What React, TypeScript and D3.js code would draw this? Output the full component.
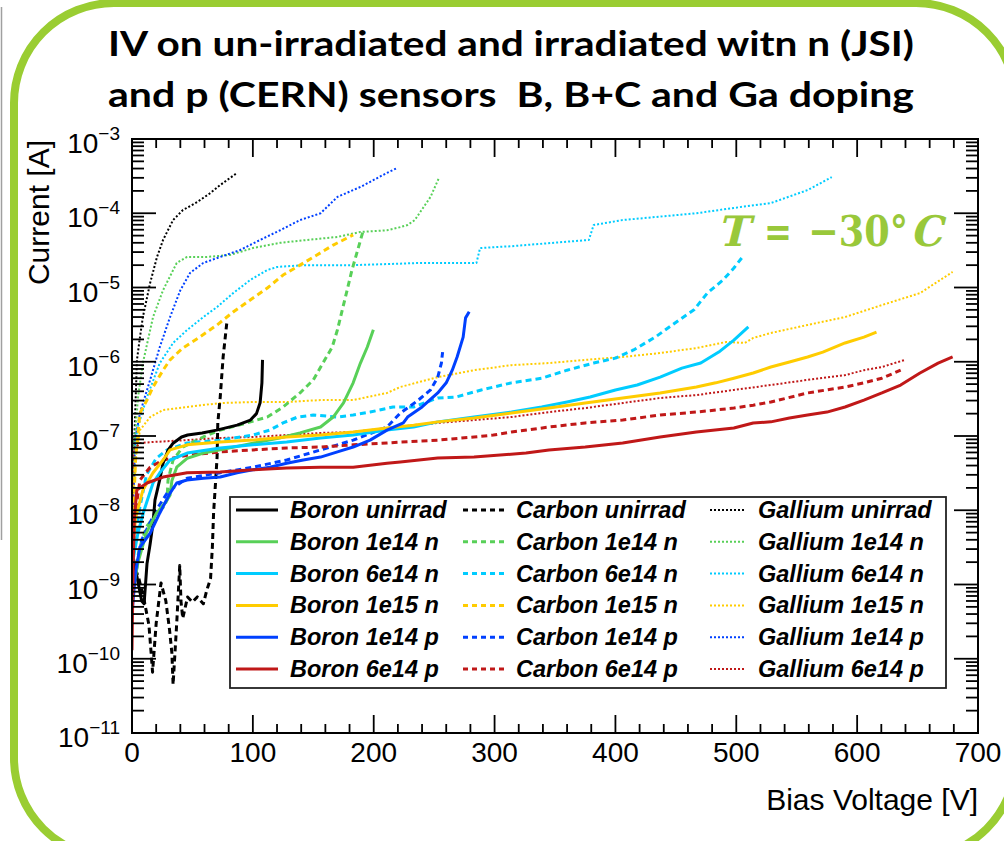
import React from "react";
import * as d3 from "d3";

type Pt = [number, number]; // [bias voltage in V, current in A]

// ---- IV curves: Boron (solid) ----
const boronUnirrad: Pt[] = [[0.5,2.5e-9],[4,1.3e-9],[8,6e-10],[10,5.5e-10],[12.4,1.9e-9],[15,3.5e-9],[17.4,6.7e-9],[19,1.37e-8],[23,2.6e-8],[25.7,4.3e-8],[30,6.5e-8],[34,8e-8],[41,9.7e-8],[46,1.03e-7],[58,1.1e-7],[70,1.2e-7],[87,1.4e-7],[98,1.64e-7],[103,2.0e-7],[106,2.8e-7],[107.5,5.2e-7],[108,1.06e-6]];
const boron1e14n: Pt[] = [[0.5,8e-10],[5,2e-9],[12,5e-9],[20,9e-9],[28,1.3e-8],[31.5,1.6e-8],[33,2.5e-8],[37,3.8e-8],[45.6,5e-8],[59,5.9e-8],[73,6.5e-8],[100,8e-8],[122,9.4e-8],[139,1.1e-7],[156,1.32e-7],[166.5,1.8e-7],[175,2.8e-7],[183,5.2e-7],[189,9.6e-7],[194.7,1.58e-6],[199.7,2.7e-6]];
const boron6e14n: Pt[] = [[0.5,2e-9],[5,5e-9],[10,1e-8],[17.4,2.33e-8],[23,3.2e-8],[31.5,4.75e-8],[45.6,5.9e-8],[73,6.9e-8],[100,7.6e-8],[128,8.3e-8],[156,9.4e-8],[183,1.03e-7],[211,1.2e-7],[233,1.32e-7],[253,1.55e-7],[283,1.8e-7],[314,2.1e-7],[339,2.46e-7],[360,2.87e-7],[379,3.35e-7],[400,4.17e-7],[418,4.86e-7],[437,6.2e-7],[455,8.2e-7],[470.6,9.6e-7],[485.5,1.35e-6],[498,1.96e-6],[510,2.94e-6]];
const boron1e15n: Pt[] = [[0.5,3e-9],[3,8e-9],[9,1.87e-8],[17.4,3.2e-8],[25.7,4.75e-8],[31.5,6.5e-8],[45.6,7.6e-8],[73,8.3e-8],[100,8.8e-8],[128,9.7e-8],[156,1.03e-7],[183,1.13e-7],[211,1.28e-7],[233,1.4e-7],[253,1.55e-7],[283,1.75e-7],[314,2.04e-7],[345,2.38e-7],[375,2.78e-7],[406,3.25e-7],[437,3.8e-7],[467,4.57e-7],[483,5.2e-7],[498,6e-7],[514,7.05e-7],[528.6,8.5e-7],[544,9.9e-7],[559,1.16e-6],[571.6,1.35e-6],[590,1.79e-6],[605.6,2.15e-6],[616,2.5e-6]];
const boron1e14p: Pt[] = [[0.5,5e-10],[3,1.5e-9],[6.6,3.2e-9],[15,4.9e-9],[23,9.2e-9],[31.5,1.7e-8],[37,2.33e-8],[45.6,2.55e-8],[59,2.7e-8],[73,2.8e-8],[87,3.2e-8],[100,3.5e-8],[114,3.8e-8],[128,4.3e-8],[141.7,4.75e-8],[156,5.2e-8],[170,6.1e-8],[183,7.1e-8],[197,8.8e-8],[211,1.2e-7],[224.5,1.5e-7],[228,1.8e-7],[240,2.46e-7],[253,3.8e-7],[260,5.2e-7],[265,7.7e-7],[269,1.16e-6],[274,2.15e-6],[276,3.9e-6],[279,4.7e-6]];
const boron6e14p: Pt[] = [[0,1.3e-10],[1,2e-9],[2,8e-9],[4,1.87e-8],[12.4,2.33e-8],[25.7,2.8e-8],[45.6,3.2e-8],[73,3.27e-8],[100,3.5e-8],[128,3.7e-8],[156,3.8e-8],[183,3.8e-8],[211,4.3e-8],[222,4.47e-8],[253,5.05e-8],[283,5.2e-8],[326,5.9e-8],[345,6.5e-8],[375,7.1e-8],[406,8.05e-8],[437,9.7e-8],[467,1.13e-7],[498,1.28e-7],[514,1.5e-7],[528.6,1.55e-7],[544,1.75e-7],[559,1.92e-7],[575,2.1e-7],[590,2.46e-7],[605.6,3.05e-7],[620.5,3.8e-7],[636,4.86e-7],[652,7.05e-7],[667,9.6e-7],[679,1.16e-6]];

// ---- IV curves: Carbon (dashed) ----
const carbonUnirrad: Pt[] = [[3,1.6e-9],[6,1.15e-9],[10,6.2e-10],[14,2.85e-10],[16,1.1e-10],[17,6.6e-11],[20,3e-10],[24,1.05e-9],[28,6e-10],[31,2.5e-10],[33,1.2e-10],[34,4.5e-11],[37,3e-10],[39.5,1.8e-9],[40.5,6e-10],[42,3.5e-10],[46,6.8e-10],[50,5.8e-10],[54,6.8e-10],[59,5.5e-10],[62,8.5e-10],[65,1.2e-9],[66.5,3.2e-9],[67.5,9.2e-9],[69,2.2e-8],[70.4,5.2e-8],[71,1.5e-7],[73,3.35e-7],[75.4,1.16e-6],[78.7,3.65e-6]];
const carbon1e14n: Pt[] = [[0.5,1e-9],[6,3e-9],[12,6e-9],[20,9e-9],[26,1.1e-8],[29,1.37e-8],[29.8,2.55e-8],[34,4.75e-8],[42,7.1e-8],[59,9.7e-8],[73,1.2e-7],[95,1.5e-7],[112,1.8e-7],[125,2.46e-7],[139,3.8e-7],[150,5.7e-7],[158,9.6e-7],[165.7,1.58e-6],[170,2.7e-6],[174,5e-6],[178,9.2e-6],[182,1.72e-5],[186,2.9e-5],[191,5.6e-5]];
const carbon6e14n: Pt[] = [[0.5,2e-9],[6,1e-8],[12,3e-8],[20,5e-8],[29,6.5e-8],[45.6,8.05e-8],[73,8.8e-8],[100,1.03e-7],[114,1.2e-7],[125,1.5e-7],[137,1.8e-7],[150,1.92e-7],[170,1.8e-7],[183,1.92e-7],[197,2.1e-7],[216,2.46e-7],[233,2.46e-7],[253,3.25e-7],[268,3.35e-7],[289,4.17e-7],[314,5.2e-7],[339,6e-7],[360,7.7e-7],[382,9.6e-7],[400,1.12e-6],[415,1.44e-6],[433,2.15e-6],[449,3.3e-6],[465,5e-6],[476,8.4e-6],[489,1.26e-5],[498,1.83e-5],[504.5,2.5e-5]];
const carbon1e15n: Pt[] = [[0.5,5e-9],[3,5e-8],[6.6,2.04e-7],[12.4,3.05e-7],[17.4,4.57e-7],[25.7,7.7e-7],[31.5,1.06e-6],[42,1.53e-6],[56,2.15e-6],[70.4,3.13e-6],[83.7,4.68e-6],[97.8,6.8e-6],[112,9.85e-6],[125,1.47e-5],[139,2e-5],[153,2.74e-5],[166.5,3.73e-5],[183,5.1e-5]];
const carbon1e14p: Pt[] = [[0.5,8e-10],[8,4e-9],[20,1e-8],[30,1.8e-8],[45.6,2.7e-8],[73,3.2e-8],[100,3.8e-8],[128,4.75e-8],[156,6.5e-8],[183,8.8e-8],[211,1.32e-7],[222,2.04e-7],[228,2.38e-7],[237,3.05e-7],[247,4.17e-7],[253,6.2e-7],[256,9.6e-7],[257,1.35e-6]];
const carbon6e14p: Pt[] = [[0.5,3e-9],[3,1e-8],[6.6,2.55e-8],[15,3.8e-8],[25.7,4.75e-8],[45.6,5.5e-8],[73,6.1e-8],[100,6.5e-8],[128,6.9e-8],[156,7.1e-8],[183,7.6e-8],[211,8.05e-8],[222,8.3e-8],[253,8.8e-8],[283,9.7e-8],[299,1.03e-7],[314,1.13e-7],[345,1.32e-7],[375,1.5e-7],[406,1.64e-7],[437,1.92e-7],[467,2.1e-7],[498,2.38e-7],[514,2.6e-7],[528.6,2.87e-7],[559,3.8e-7],[590,4.57e-7],[605.6,5.2e-7],[620.5,6e-7],[636,7.7e-7]];

// ---- IV curves: Gallium (dotted) ----
const galliumUnirrad: Pt[] = [[0.5,1e-8],[2,1e-7],[4.1,1.06e-6],[6.6,2.15e-6],[9,4e-6],[15,1.15e-5],[20.7,2.58e-5],[25.7,4.37e-5],[34,8.1e-5],[42,1.1e-4],[54,1.42e-4],[65,1.88e-4],[73,2.4e-4],[87,3.5e-4]];
const gallium1e14n: Pt[] = [[0.5,1e-8],[2,8e-8],[5,3.35e-7],[9,9.6e-7],[17.4,4e-6],[25.7,9.2e-6],[37,2.14e-5],[45.6,2.58e-5],[62,2.58e-5],[81,2.74e-5],[100,3.4e-5],[122.6,4e-5],[145,4.37e-5],[170,4.8e-5],[189,5.6e-5],[211,5.9e-5],[222,6.5e-5],[228,6.95e-5],[234,8.1e-5],[247,1.66e-4],[254,3e-4]];
const gallium6e14n: Pt[] = [[0.5,1e-8],[4,1.2e-7],[12.4,3.35e-7],[23,9.6e-7],[34,1.79e-6],[45.6,2.68e-6],[59,4e-6],[70.4,5.46e-6],[83.7,8.4e-6],[97.8,1.26e-5],[112,1.72e-5],[120,1.89e-5],[141.7,2e-5],[183,2e-5],[238.6,2.14e-5],[285,2.14e-5],[288,3.4e-5],[314,3.6e-5],[378,4.37e-5],[382,6.95e-5],[406,8.1e-5],[467,1e-4],[498,1.18e-4],[528.6,1.37e-4],[559,2.05e-4],[579,3.07e-4]];
const gallium1e15n: Pt[] = [[0.5,1e-8],[3,5e-8],[6.6,1.2e-7],[15,1.8e-7],[25.7,2.24e-7],[45.6,2.46e-7],[73,2.78e-7],[100,2.87e-7],[128,2.87e-7],[156,3.05e-7],[183,3.05e-7],[211,3.8e-7],[222,4.57e-7],[253,6.2e-7],[283,7.7e-7],[314,9e-7],[345,9.6e-7],[375,1.06e-6],[406,1.16e-6],[437,1.31e-6],[467,1.53e-6],[492,1.85e-6],[507,1.79e-6],[514,2.09e-6],[528.6,2.44e-6],[559,3.13e-6],[590,4e-6],[620.5,5.8e-6],[652,8.4e-6],[679,1.62e-5]];
const gallium1e14p: Pt[] = [[0.3,5e-9],[1.5,2e-8],[2.5,8.8e-8],[6.6,2.04e-7],[15,5.7e-7],[23,1.58e-6],[31.5,4e-6],[40,9.2e-6],[48,1.57e-5],[59,2.14e-5],[73,2.58e-5],[89.5,3.2e-5],[106,4.37e-5],[122.6,5.9e-5],[139,8.1e-5],[156,1e-4],[170,1.66e-4],[189,2.26e-4],[211,3.5e-4],[219.5,4.07e-4]];
const gallium6e14p: Pt[] = [[0.3,5e-9],[1,6.5e-8],[6.6,8.05e-8],[17.4,8.3e-8],[45.6,8.8e-8],[73,9.4e-8],[100,9.7e-8],[128,1.03e-7],[156,1.1e-7],[183,1.13e-7],[211,1.28e-7],[233,1.4e-7],[253,1.5e-7],[283,1.64e-7],[314,1.8e-7],[345,2.1e-7],[375,2.38e-7],[406,2.78e-7],[437,3.25e-7],[467,3.56e-7],[498,4.17e-7],[528.6,4.86e-7],[559,5.7e-7],[590,6.6e-7],[605.6,7.7e-7],[620.5,8.5e-7],[639.6,1.06e-6]];

// ---- categories and labels ----
const dopants = ["Boron", "Carbon", "Gallium"];
const fluences = ["unirrad", "1e14 n", "6e14 n", "1e15 n", "1e14 p", "6e14 p"];
const curvesByDopant: Pt[][][] = [
  [boronUnirrad, boron1e14n, boron6e14n, boron1e15n, boron1e14p, boron6e14p],
  [carbonUnirrad, carbon1e14n, carbon6e14n, carbon1e15n, carbon1e14p, carbon6e14p],
  [galliumUnirrad, gallium1e14n, gallium6e14n, gallium1e15n, gallium1e14p, gallium6e14p],
];
const xTickValues = [0, 100, 200, 300, 400, 500, 600, 700];
const yDecades = [-11, -10, -9, -8, -7, -6, -5, -4, -3];
const titleLines = [
  "IV on un-irradiated and irradiated witn n (JSI)",
  "and p (CERN) sensors \u00a0B, B+C and Ga doping",
];
// temperature annotation, split into pieces: [text, slanted, x, width]
const tempPieces: [string, boolean, number, number][] = [
  ["T", true, 717, 31],
  ["=", false, 764, 28],
  ["\u221230\u00b0", false, 808, 100],
  ["C", true, 910, 32],
];

// ---- styling ----
const fluenceColors = ["#000000", "#58d058", "#00ccff", "#ffcc00", "#0040ff", "#c01818"];
const dopantStroke = [
  { dash: undefined as string | undefined, width: 3 },
  { dash: "6 4", width: 3 },
  { dash: "2 2", width: 2 },
];
const frameGreen = "#9acd32";
const labelGreen = "#99c83a";
const sans = "'Liberation Sans', Arial, Helvetica, sans-serif";

const W = 1004;
const H = 841;
const plot = { left: 132, right: 978, top: 139, bottom: 733 };

export default function App() {
  const x = d3.scaleLinear().domain([0, 700]).range([plot.left, plot.right]);
  const y = d3.scaleLog().domain([1e-11, 1e-3]).range([plot.bottom, plot.top]);
  const line = d3
    .line<Pt>()
    .x((d) => x(d[0]))
    .y((d) => y(d[1]));

  // x ticks every 20 V, labelled every 100 V
  const xMinor = d3.range(0, 701, 20);
  // log ticks: decades plus 2..9 subdivisions
  const yTicks: { v: number; major: boolean }[] = [];
  yDecades.forEach((d) => {
    yTicks.push({ v: Math.pow(10, d), major: true });
    if (d < -3) for (let k = 2; k <= 9; k++) yTicks.push({ v: k * Math.pow(10, d), major: false });
  });

  const drawOrder = [2, 1, 0]; // dotted, then dashed, then solid on top

  const legendRows = [510, 541.8, 573.6, 605.4, 637.2, 669];
  const legendCols = [
    { x0: 236, x1: 278, tx: 290 },
    { x0: 463, x1: 507, tx: 516 },
    { x0: 710, x1: 746, tx: 758 },
  ];

  return (
    <svg
      width={W}
      height={H}
      viewBox={`0 0 ${W} ${H}`}
      style={{ position: "absolute", left: 0, top: 0, background: "#fff" }}
    >
      <rect x={0} y={0} width={W} height={H} fill="#fff" />
      <line x1={1.5} x2={1.5} y1={7} y2={540} stroke="#a0a0a0" strokeWidth={1.5} />

      {/* title */}
      {titleLines.map((t, i) => (
        <text
          key={i}
          x={511}
          y={56 + i * 51}
          textAnchor="middle"
          fontFamily="Lato, 'Open Sans', sans-serif"
          fontWeight={700}
          fontSize={34}
          textLength={806}
          lengthAdjust="spacingAndGlyphs"
          fill="#000"
        >
          {t}
        </text>
      ))}

      <defs>
        <clipPath id="plotClip">
          <rect x={plot.left} y={plot.top} width={plot.right - plot.left} height={plot.bottom - plot.top} />
        </clipPath>
      </defs>

      {/* curves */}
      <g clipPath="url(#plotClip)" fill="none" strokeLinejoin="round">
        {drawOrder.map((di) =>
          curvesByDopant[di].map((pts, fi) => (
            <path
              key={`${di}-${fi}`}
              d={line(pts) || ""}
              stroke={fluenceColors[fi]}
              strokeWidth={dopantStroke[di].width}
              strokeDasharray={dopantStroke[di].dash}
            />
          ))
        )}
      </g>

      {/* frame */}
      <rect
        x={plot.left}
        y={plot.top}
        width={plot.right - plot.left}
        height={plot.bottom - plot.top}
        fill="none"
        stroke="#000"
        strokeWidth={2}
      />

      {/* ticks on all four sides */}
      <g stroke="#000" strokeWidth={1.8}>
        {xMinor.map((v) => {
          const len = v % 100 === 0 ? 18 : 9;
          return (
            <g key={v}>
              <line x1={x(v)} x2={x(v)} y1={plot.bottom} y2={plot.bottom - len} />
              <line x1={x(v)} x2={x(v)} y1={plot.top} y2={plot.top + len} />
            </g>
          );
        })}
        {yTicks.map((t, i) => {
          const len = t.major ? 24 : 12;
          return (
            <g key={i}>
              <line x1={plot.left} x2={plot.left + len} y1={y(t.v)} y2={y(t.v)} />
              <line x1={plot.right} x2={plot.right - len} y1={y(t.v)} y2={y(t.v)} />
            </g>
          );
        })}
      </g>

      {/* x tick labels */}
      {xTickValues.map((v) => (
        <text key={v} x={x(v)} y={762} textAnchor="middle" fontFamily={sans} fontSize={28} fill="#000">
          {v}
        </text>
      ))}

      {/* y tick labels */}
      {yDecades.map((d) => (
        <text key={d} x={120} y={y(Math.pow(10, d)) + 14} textAnchor="end" fontFamily={sans} fill="#000">
          <tspan fontSize={28}>10</tspan>
          <tspan fontSize={19} dy={-13}>
            {"\u2212" + Math.abs(d)}
          </tspan>
        </text>
      ))}

      {/* axis titles */}
      <text x={978} y={810} textAnchor="end" fontFamily={sans} fontSize={30} fill="#000">
        Bias Voltage [V]
      </text>
      <text
        transform="translate(49,140) rotate(-90)"
        textAnchor="end"
        fontFamily={sans}
        fontSize={30}
        fill="#000"
      >
        Current [A]
      </text>

      {/* temperature note; the symbols T and C are slanted */}
      {tempPieces.map(([t, slanted, px, w]) => (
        <text
          key={t}
          transform={`translate(${px},246)${slanted ? " skewX(-14)" : ""}`}
          fontFamily="'DejaVu Serif', 'Liberation Serif', serif"
          fontWeight={700}
          fontSize={42}
          fill={labelGreen}
          textLength={w}
          lengthAdjust="spacingAndGlyphs"
        >
          {t}
        </text>
      ))}

      {/* legend */}
      <rect x={230} y={497} width={716} height={191} fill="#fff" stroke="#222" strokeWidth={1.8} />
      {dopants.map((dop, di) =>
        fluences.map((fl, fi) => {
          const col = legendCols[di];
          const cy = legendRows[fi];
          return (
            <g key={`${di}-${fi}`}>
              <line
                x1={col.x0}
                x2={col.x1}
                y1={cy}
                y2={cy}
                stroke={fluenceColors[fi]}
                strokeWidth={dopantStroke[di].width}
                strokeDasharray={di === 1 ? "5 4" : dopantStroke[di].dash}
              />
              <text
                x={col.tx}
                y={cy + 8}
                fontFamily={sans}
                fontWeight={700}
                fontStyle="italic"
                fontSize={23.5}
                fill="#000"
              >
                {`${dop} ${fl}`}
              </text>
            </g>
          );
        })
      )}

      {/* rounded green border */}
      <rect
        x={14}
        y={3}
        width={1002}
        height={855}
        rx={100}
        ry={100}
        fill="none"
        stroke={frameGreen}
        strokeWidth={8}
      />
    </svg>
  );
}
